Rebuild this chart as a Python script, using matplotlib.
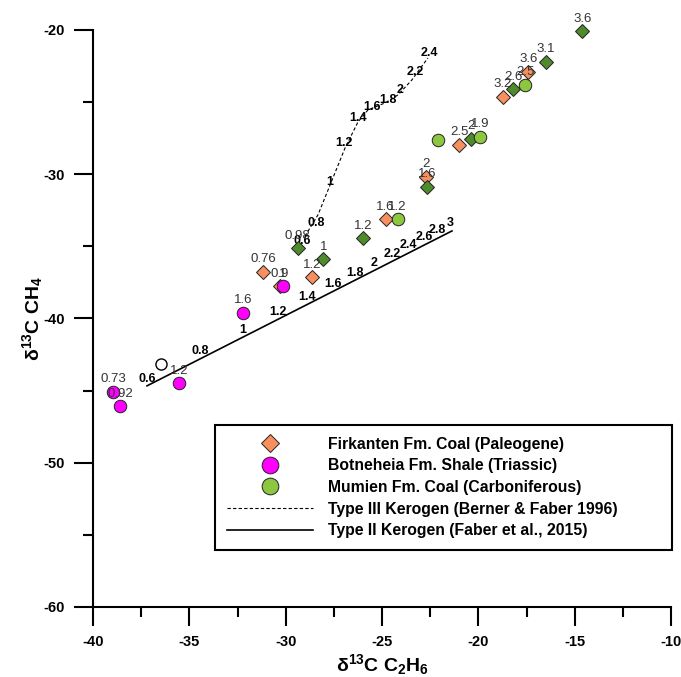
# Python3
# d13C CH4 vs d13C C2H6 cross plot with kerogen maturity curves

import numpy as np
import matplotlib
matplotlib.use('Agg')
import matplotlib.pyplot as plt
from matplotlib.lines import Line2D

#*******************************************************************************
#                                 D A T A                                      *
#*******************************************************************************
# Firkanten Fm. Coal (Paleogene) - orange diamonds
firk_x = [-31.16, -30.29, -28.62, -24.81, -22.72, -20.99, -18.74, -17.41]
firk_y = [-36.76, -37.75, -37.14, -33.12, -30.17, -27.97, -24.62, -22.89]
firk_lab = ['0.76', '0.9', '1.2', '1.6', '2', '2.5', '3.2', '3.6']

# dark green diamonds (not in legend)
dgrn_x = [-29.38, -28.05, -25.97, -22.68, -20.38, -18.19, -16.50, -14.60]
dgrn_y = [-35.13, -35.88, -34.44, -30.86, -27.54, -24.11, -22.20, -20.07]
dgrn_lab = ['0.98', '1', '1.2', '1.6', '2', '2.6', '3.1', '3.6']

# Mumien Fm. Coal (Carboniferous) - green circles
mum_x = [-24.19, -22.12, -19.91, -17.58]
mum_y = [-33.12, -27.65, -27.40, -23.81]
mum_lab = ['1.2', '', '1.9', '2.5']

# Botneheia Fm. Shale (Triassic) - magenta circles
bot_x = [-32.20, -30.15, -35.52, -38.95, -38.60]
bot_y = [-39.60, -37.75, -44.49, -45.07, -46.07]
bot_lab = ['1.6', '1', '1.2', '0.73', '0.92']

# open circle
open_x = [-36.49]
open_y = [-43.15]

# Type III kerogen (Berner & Faber 1996)
t3_x = [-29.0, -28.32, -27.55, -26.92, -26.25, -25.73, -24.85, -24.17, -23.45, -22.62]
t3_y = [-34.3, -32.8, -30.26, -28.18, -26.38, -25.54, -25.06, -24.5, -23.46, -21.94]
t3_ro = ['0.6', '0.8', '1', '1.2', '1.4', '1.6', '1.8', '2', '2.2', '2.4']
t3_ro_x = [-29.15, -28.43, -27.70, -26.97, -26.25, -25.52, -24.69, -24.07, -23.29, -22.56]
t3_ro_y = [-34.62, -33.37, -30.53, -27.83, -26.10, -25.34, -24.85, -24.16, -22.91, -21.59]

# Type II kerogen (Faber et al., 2015)
t2_x = [-37.2, -21.37]
t2_y = [-44.67, -33.93]
t2_ro = ['0.6', '0.8', '1', '1.2', '1.4', '1.6', '1.8', '2', '2.2', '2.4', '2.6', '2.8', '3']
t2_ro_x = [-37.20, -34.45, -32.22, -30.40, -28.89, -27.55, -26.40, -25.42, -24.48,
           -23.65, -22.82, -22.15, -21.47]
t2_ro_y = [-44.19, -42.25, -40.79, -39.54, -38.50, -37.60, -36.84, -36.15, -35.52,
           -34.90, -34.35, -33.86, -33.37]

legend_labels = ['Firkanten Fm. Coal (Paleogene)',
                 'Botneheia Fm. Shale (Triassic)',
                 'Mumien Fm. Coal (Carboniferous)',
                 'Type III Kerogen (Berner & Faber 1996)',
                 'Type II Kerogen (Faber et al., 2015)']

#*******************************************************************************
#                                F I G U R E                                   *
#*******************************************************************************
plt.rcParams['font.family'] = ['Liberation Sans', 'DejaVu Sans']
plt.rcParams['axes.unicode_minus'] = False
plt.rcParams['mathtext.fontset'] = 'custom'
plt.rcParams['mathtext.rm'] = 'Liberation Sans'
plt.rcParams['mathtext.bf'] = 'Liberation Sans:bold'
plt.rcParams['mathtext.it'] = 'Liberation Sans:italic'

c_orange = '#F78F5E'
c_dgreen = '#4F8A2C'
c_lgreen = '#8DC63F'
c_magenta = '#FF00FF'
lab_col = '#333333'

fig = plt.figure(figsize=(6.81, 6.77), dpi=100)
ax1 = fig.add_axes([0.1366, 0.1034, 0.8488, 0.8523])

# curves
ax1.plot(t3_x, t3_y, color='black', linewidth=0.8, linestyle=(0, (3, 2)))
ax1.plot(t2_x, t2_y, color='black', linewidth=1.2, linestyle='-')
for i in range(len(t3_ro)):
    ax1.text(t3_ro_x[i], t3_ro_y[i], t3_ro[i], fontsize=9, fontweight='bold',
             ha='center', va='center')
for i in range(len(t2_ro)):
    ax1.text(t2_ro_x[i], t2_ro_y[i], t2_ro[i], fontsize=9, fontweight='bold',
             ha='center', va='center')

# samples
mk = dict(linestyle='none', markeredgecolor='#222222', markeredgewidth=0.7, clip_on=False)
ax1.plot(firk_x, firk_y, marker='D', markersize=6.8, markerfacecolor=c_orange, zorder=3, **mk)
ax1.plot(dgrn_x, dgrn_y, marker='D', markersize=6.8, markerfacecolor=c_dgreen, zorder=3, **mk)
ax1.plot(mum_x, mum_y, marker='o', markersize=9, markerfacecolor=c_lgreen, zorder=4, **mk)
ax1.plot(bot_x, bot_y, marker='o', markersize=9, markerfacecolor=c_magenta, zorder=4, **mk)
ax1.plot(open_x, open_y, marker='o', markersize=8, markerfacecolor='white',
         markeredgecolor='black', markeredgewidth=1.0, linestyle='none', zorder=4)

for xs, ys, labs in [(firk_x, firk_y, firk_lab), (dgrn_x, dgrn_y, dgrn_lab),
                     (mum_x, mum_y, mum_lab), (bot_x, bot_y, bot_lab)]:
    for i in range(len(xs)):
        if labs[i]:
            ax1.annotate(labs[i], (xs[i], ys[i]), xytext=(0, 9), textcoords='offset points',
                         ha='center', va='center', fontsize=9.5, color=lab_col,
                         annotation_clip=False, zorder=5)

# axes
ax1.set_xlim(-40, -10)
ax1.set_ylim(-60, -20)
ax1.spines['top'].set_visible(False)
ax1.spines['right'].set_visible(False)
ax1.spines['left'].set_linewidth(1.5)
ax1.spines['bottom'].set_linewidth(1.5)
ax1.set_xticks(np.arange(-40, -9, 5))
ax1.set_xticks(np.arange(-37.5, -10, 5), minor=True)
ax1.set_yticks(np.arange(-60, -19, 10))
ax1.set_yticks(np.arange(-55, -20, 10), minor=True)
ax1.tick_params(which='major', direction='out', length=14, width=1.5, pad=6)
ax1.tick_params(which='minor', direction='out', length=7, width=1.5)
for lab in ax1.get_xticklabels() + ax1.get_yticklabels():
    lab.set_fontweight('bold')
    lab.set_fontsize(10.5)

ax1.set_xlabel(r'$\mathbf{\delta^{13}C\ C_2H_6}$', fontsize=14, va='center')
ax1.set_ylabel(r'$\mathbf{\delta^{13}C\ CH_4}$', fontsize=14, va='center')
ax1.xaxis.set_label_coords(0.5, -0.10)
ax1.yaxis.set_label_coords(-0.104, 0.5)

# legend
handles = [Line2D([], [], marker='D', markersize=9.5, linestyle='none', markerfacecolor=c_orange,
                  markeredgecolor='#222222', markeredgewidth=0.7),
           Line2D([], [], marker='o', markersize=12, linestyle='none', markerfacecolor=c_magenta,
                  markeredgecolor='#222222', markeredgewidth=0.7),
           Line2D([], [], marker='o', markersize=12, linestyle='none', markerfacecolor=c_lgreen,
                  markeredgecolor='#222222', markeredgewidth=0.7),
           Line2D([], [], color='black', linewidth=0.8, linestyle=(0, (3, 2))),
           Line2D([], [], color='black', linewidth=1.2)]
leg = ax1.legend(handles, legend_labels, loc='upper left',
                 bbox_to_anchor=(0.211, 0.0, 0.791, 0.3154), mode='expand', borderaxespad=0,
                 fancybox=False, framealpha=1, edgecolor='black', handlelength=5.5,
                 handletextpad=0.95, labelspacing=0.42, borderpad=0.75,
                 prop={'weight': 'bold', 'size': 11.3})
leg.get_frame().set_linewidth(1.5)

fig.savefig('out.png', dpi=100)
plt.close('all')
